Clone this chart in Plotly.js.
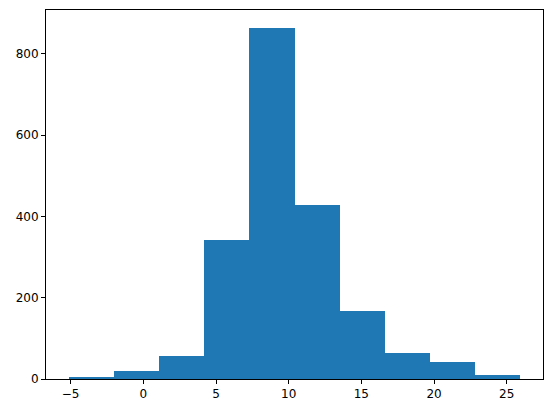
<!DOCTYPE html>
<html>
<head>
<meta charset="utf-8">
<script src="https://cdn.plot.ly/plotly-3.0.1.min.js"></script>
<style>html,body{margin:0;padding:0;background:#fff;}#chart{width:552px;height:413px;}</style>
</head>
<body>
<div id="chart"></div>
<script>
// Histogram bin edges and counts
const binEdges = [-5.14, -2.03, 1.08, 4.19, 7.29, 10.40, 13.51, 16.62, 19.72, 22.83, 25.94];
const counts = [5, 20, 57, 343, 865, 428, 167, 64, 42, 10];
const xTicks = [-5, 0, 5, 10, 15, 20, 25];
const yTicks = [0, 200, 400, 600, 800];

const centers = counts.map((_, i) => (binEdges[i] + binEdges[i + 1]) / 2);
const widths = counts.map((_, i) => binEdges[i + 1] - binEdges[i]);
const span = binEdges[binEdges.length - 1] - binEdges[0];
const maxC = Math.max(...counts);

const trace = {
  type: 'bar',
  x: centers,
  y: counts,
  width: widths,
  marker: {color: '#1f77b4', line: {width: 0}},
  hoverinfo: 'x+y'
};

const axisCommon = {
  showgrid: false,
  zeroline: false,
  showline: true,
  linecolor: '#000',
  linewidth: 1,
  mirror: true,
  ticks: 'outside',
  ticklen: 4,
  tickwidth: 1,
  tickcolor: '#000',
  tickfont: {family: 'DejaVu Sans', size: 12, color: '#000'}
};

const layout = {
  width: 552,
  height: 413,
  margin: {l: 46, r: 9, t: 10, b: 34},
  paper_bgcolor: '#fff',
  plot_bgcolor: '#fff',
  showlegend: false,
  bargap: 0,
  xaxis: Object.assign({}, axisCommon, {
    range: [binEdges[0] - 0.05 * span, binEdges[binEdges.length - 1] + 0.05 * span],
    tickvals: xTicks,
    ticktext: xTicks.map(v => (v < 0 ? '\u2212' + Math.abs(v) : String(v)))
  }),
  yaxis: Object.assign({}, axisCommon, {
    range: [0, maxC * 1.05],
    tickvals: yTicks
  })
};

Plotly.newPlot('chart', [trace], layout, {displayModeBar: false, staticPlot: true});
</script>
</body>
</html>
